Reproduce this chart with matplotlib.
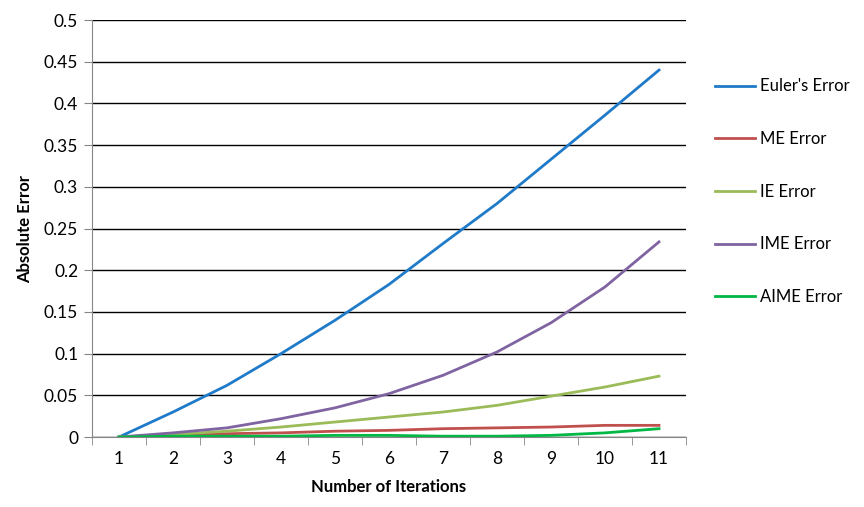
import matplotlib.pyplot as plt

iterations = [1, 2, 3, 4, 5, 6, 7, 8, 9, 10, 11]
euler_err = [0, 0.030, 0.062, 0.100, 0.140, 0.183, 0.232, 0.280, 0.333, 0.386, 0.440]
me_err = [0, 0.002, 0.004, 0.005, 0.007, 0.008, 0.010, 0.011, 0.012, 0.014, 0.014]
ie_err = [0, 0.003, 0.007, 0.012, 0.018, 0.024, 0.030, 0.038, 0.049, 0.060, 0.073]
ime_err = [0, 0.005, 0.011, 0.022, 0.035, 0.052, 0.074, 0.102, 0.137, 0.180, 0.234]
aime_err = [0, 0.001, 0.001, 0.001, 0.002, 0.002, 0.001, 0.001, 0.002, 0.005, 0.010]
y_ticks = [0, 0.05, 0.1, 0.15, 0.2, 0.25, 0.3, 0.35, 0.4, 0.45, 0.5]
y_labels = ['0', '0.05', '0.1', '0.15', '0.2', '0.25', '0.3', '0.35', '0.4', '0.45', '0.5']

plt.rcParams['font.family'] = ['Lato', 'DejaVu Sans']

fig = plt.figure(figsize=(8.64, 5.07), dpi=100)
ax = fig.add_axes([0.1065, 0.138, 0.6875, 0.8225])

ax.plot(iterations, euler_err, color='#1F7BC9', lw=2, label="Euler's Error")
ax.plot(iterations, me_err, color='#C0504D', lw=2, label='ME Error')
ax.plot(iterations, ie_err, color='#9BBB59', lw=2, label='IE Error')
ax.plot(iterations, ime_err, color='#8064A2', lw=2, label='IME Error')
ax.plot(iterations, aime_err, color='#00B843', lw=2, label='AIME Error')

ax.set_xlim(0.5, 11.5)
ax.set_ylim(0, 0.5)
ax.set_yticks(y_ticks)
ax.set_yticklabels(y_labels)
ax.set_xticks(iterations)
ax.set_xticks([i + 0.5 for i in range(12)], minor=True)
ax.tick_params(axis='x', which='major', length=0, pad=10, labelsize=12.5)
ax.tick_params(axis='x', which='minor', length=6, color='#868686')
ax.tick_params(axis='y', length=6, color='#868686', labelsize=12.5, pad=4)
ax.grid(axis='y', color='black', lw=1)
ax.set_axisbelow(True)
for s in ['top', 'right']:
    ax.spines[s].set_visible(False)
ax.spines['left'].set_color('#868686')
ax.spines['bottom'].set_color('#868686')

ax.set_xlabel('Number of Iterations', fontweight='bold', fontsize=12, labelpad=9)
ax.set_ylabel('Absolute Error', fontweight='bold', fontsize=12, labelpad=8)

fig.legend(loc='upper left', bbox_to_anchor=(0.81, 0.875), frameon=False,
           fontsize=12, labelspacing=2.2, handlelength=2.4, handletextpad=0.3)

fig.savefig('out.png', dpi=100)
